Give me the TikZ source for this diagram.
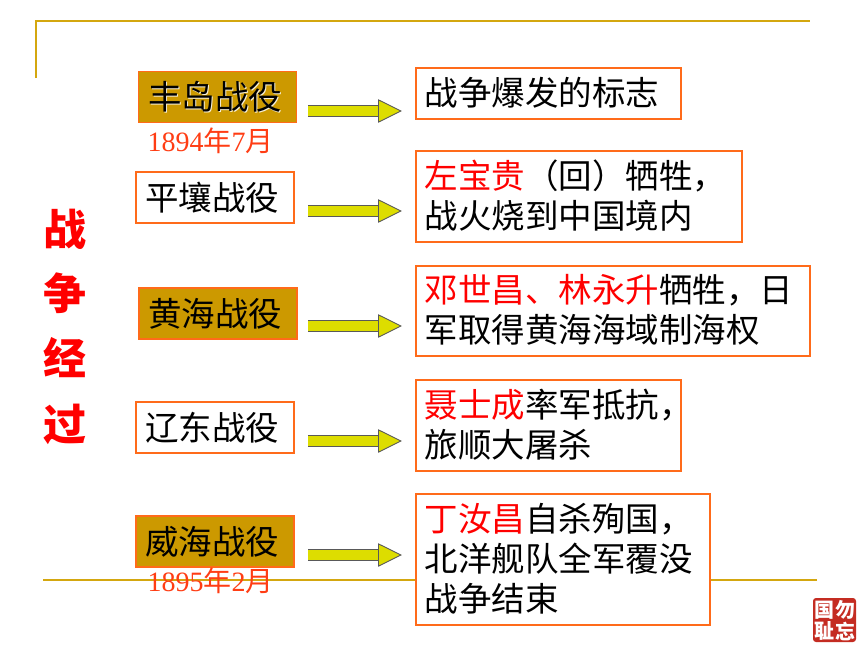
\documentclass[tikz,border=0pt]{standalone}
\usepackage{fontspec}
\setmainfont{Noto Sans CJK SC}
\newfontfamily\timesfont{Liberation Serif}
\usepackage{tikz}
\usetikzlibrary{arrows.meta}
\definecolor{frameGold}{HTML}{D4A70F}
\definecolor{boxOrange}{HTML}{FF6B1A}
\definecolor{boxGold}{HTML}{CC9900}
\definecolor{arrowYellow}{HTML}{DDDD00}
\definecolor{dateRed}{HTML}{FF3D14}
\definecolor{sealRed}{HTML}{C42C22}
\newcommand{\rd}[1]{\textcolor{red}{#1}}

\begin{document}
\begin{tikzpicture}[
	x=1pt, y=-1pt,
	frameLine/.style={frameGold, line width=1.6pt},
	battle/.style={draw=boxOrange, line width=1.6pt, fill=white, minimum width=158pt, minimum height=51pt, inner sep=0pt, font=\fontsize{33.5}{40}\selectfont, execute at begin node=\hspace*{-6pt}},
	goldBattle/.style={battle, fill=boxGold},
	result/.style={draw=boxOrange, line width=1.6pt, fill=white, inner sep=0pt, outer sep=0pt, anchor=north west, minimum height=#1, font=\fontsize{33.5}{40}\selectfont, execute at end node={\endgraf\vspace{2pt}}},
	resultText/.style={text width=#1, align=left, inner xsep=8.5pt},
	blockArrow/.style={draw=black!65, line width=.9pt, double=arrowYellow, double distance=9.5pt, -{Triangle[length=24pt, width=23.5pt, fill=arrowYellow, line width=.9pt]}},
	date/.style={dateRed, font=\fontsize{28}{30}\selectfont},
	side/.style={red, font=\fontsize{43}{44}\selectfont\bfseries},
	sealText/.style={white, font=\fontsize{20}{20}\selectfont\bfseries, inner sep=0pt}
]
\useasboundingbox (0, 0) rectangle (860, 645);

% Frame
\draw[frameLine] (36, 78) -- (36, 21) -- (810, 21);
\draw[frameLine] (43, 580) -- (817, 580);

% Side title
\node[side] (sideA) at (65, 229) {战};
\node[side] (sideB) at (65, 293) {争};
\node[side] (sideC) at (65, 358) {经};
\node[side] (sideD) at (65, 424) {过};

% Battles
\node[goldBattle] (fengdao) at (217.5, 97) {};
\node[white!85!boxGold, font=\fontsize{33.5}{40}\selectfont] (fengdaoGlow) at (216, 98) {丰岛战役};
\node[font=\fontsize{33.5}{40}\selectfont] (fengdaoText) at (215, 97) {丰岛战役};
\node[battle] (pingrang) at (215, 197.5) {平壤战役};
\node[goldBattle] (huanghai) at (218, 313.5) {黄海战役};
\node[battle] (liaodong) at (215, 427.5) {辽东战役};
\node[goldBattle] (weihai) at (215, 541.5) {威海战役};

% Dates
\node[date] (dateA) at (210.5, 141) {{\timesfont 1894}年{\timesfont 7}月};
\node[date] (dateB) at (210.5, 581) {{\timesfont 1895}年{\timesfont 2}月};

% Results
\node[result=51pt, resultText=248pt] (resA) at (416, 68) {战争爆发的标志};
\node[result=91pt, resultText=309pt] (resB) at (416, 151) {\rd{左宝贵}（回）牺牲，\\战火烧到中国境内};
\node[result=90pt, resultText=377pt] (resC) at (416, 266) {\rd{邓世昌、林永升}牺牲，日\\军取得黄海海域制海权};
\node[result=91pt, resultText=248pt] (resD) at (416, 380) {\rd{聂士成}率军抵抗，\\旅顺大屠杀};
\node[result=131pt, resultText=277pt] (resE) at (416, 494) {\rd{丁汝昌}自杀殉国，\\北洋舰队全军覆没\\战争结束};

% Arrows
\foreach \name/\y in {A/111, B/211, C/326, D/441, E/555} {
	\coordinate (from\name) at (308, \y);
	\coordinate (to\name) at (402, \y);
	\draw[blockArrow] (from\name) -- (to\name);
}

% Seal
\node[fill=sealRed, rounded corners=3pt, minimum width=43pt, minimum height=44pt, inner sep=0pt] (seal) at (834.5, 620) {};
\node[sealText] (sealA) at (845, 610) {勿};
\node[sealText] (sealB) at (845, 631) {忘};
\node[sealText] (sealC) at (824, 610) {国};
\node[sealText] (sealD) at (824, 631) {耻};
\end{tikzpicture}
\end{document}
